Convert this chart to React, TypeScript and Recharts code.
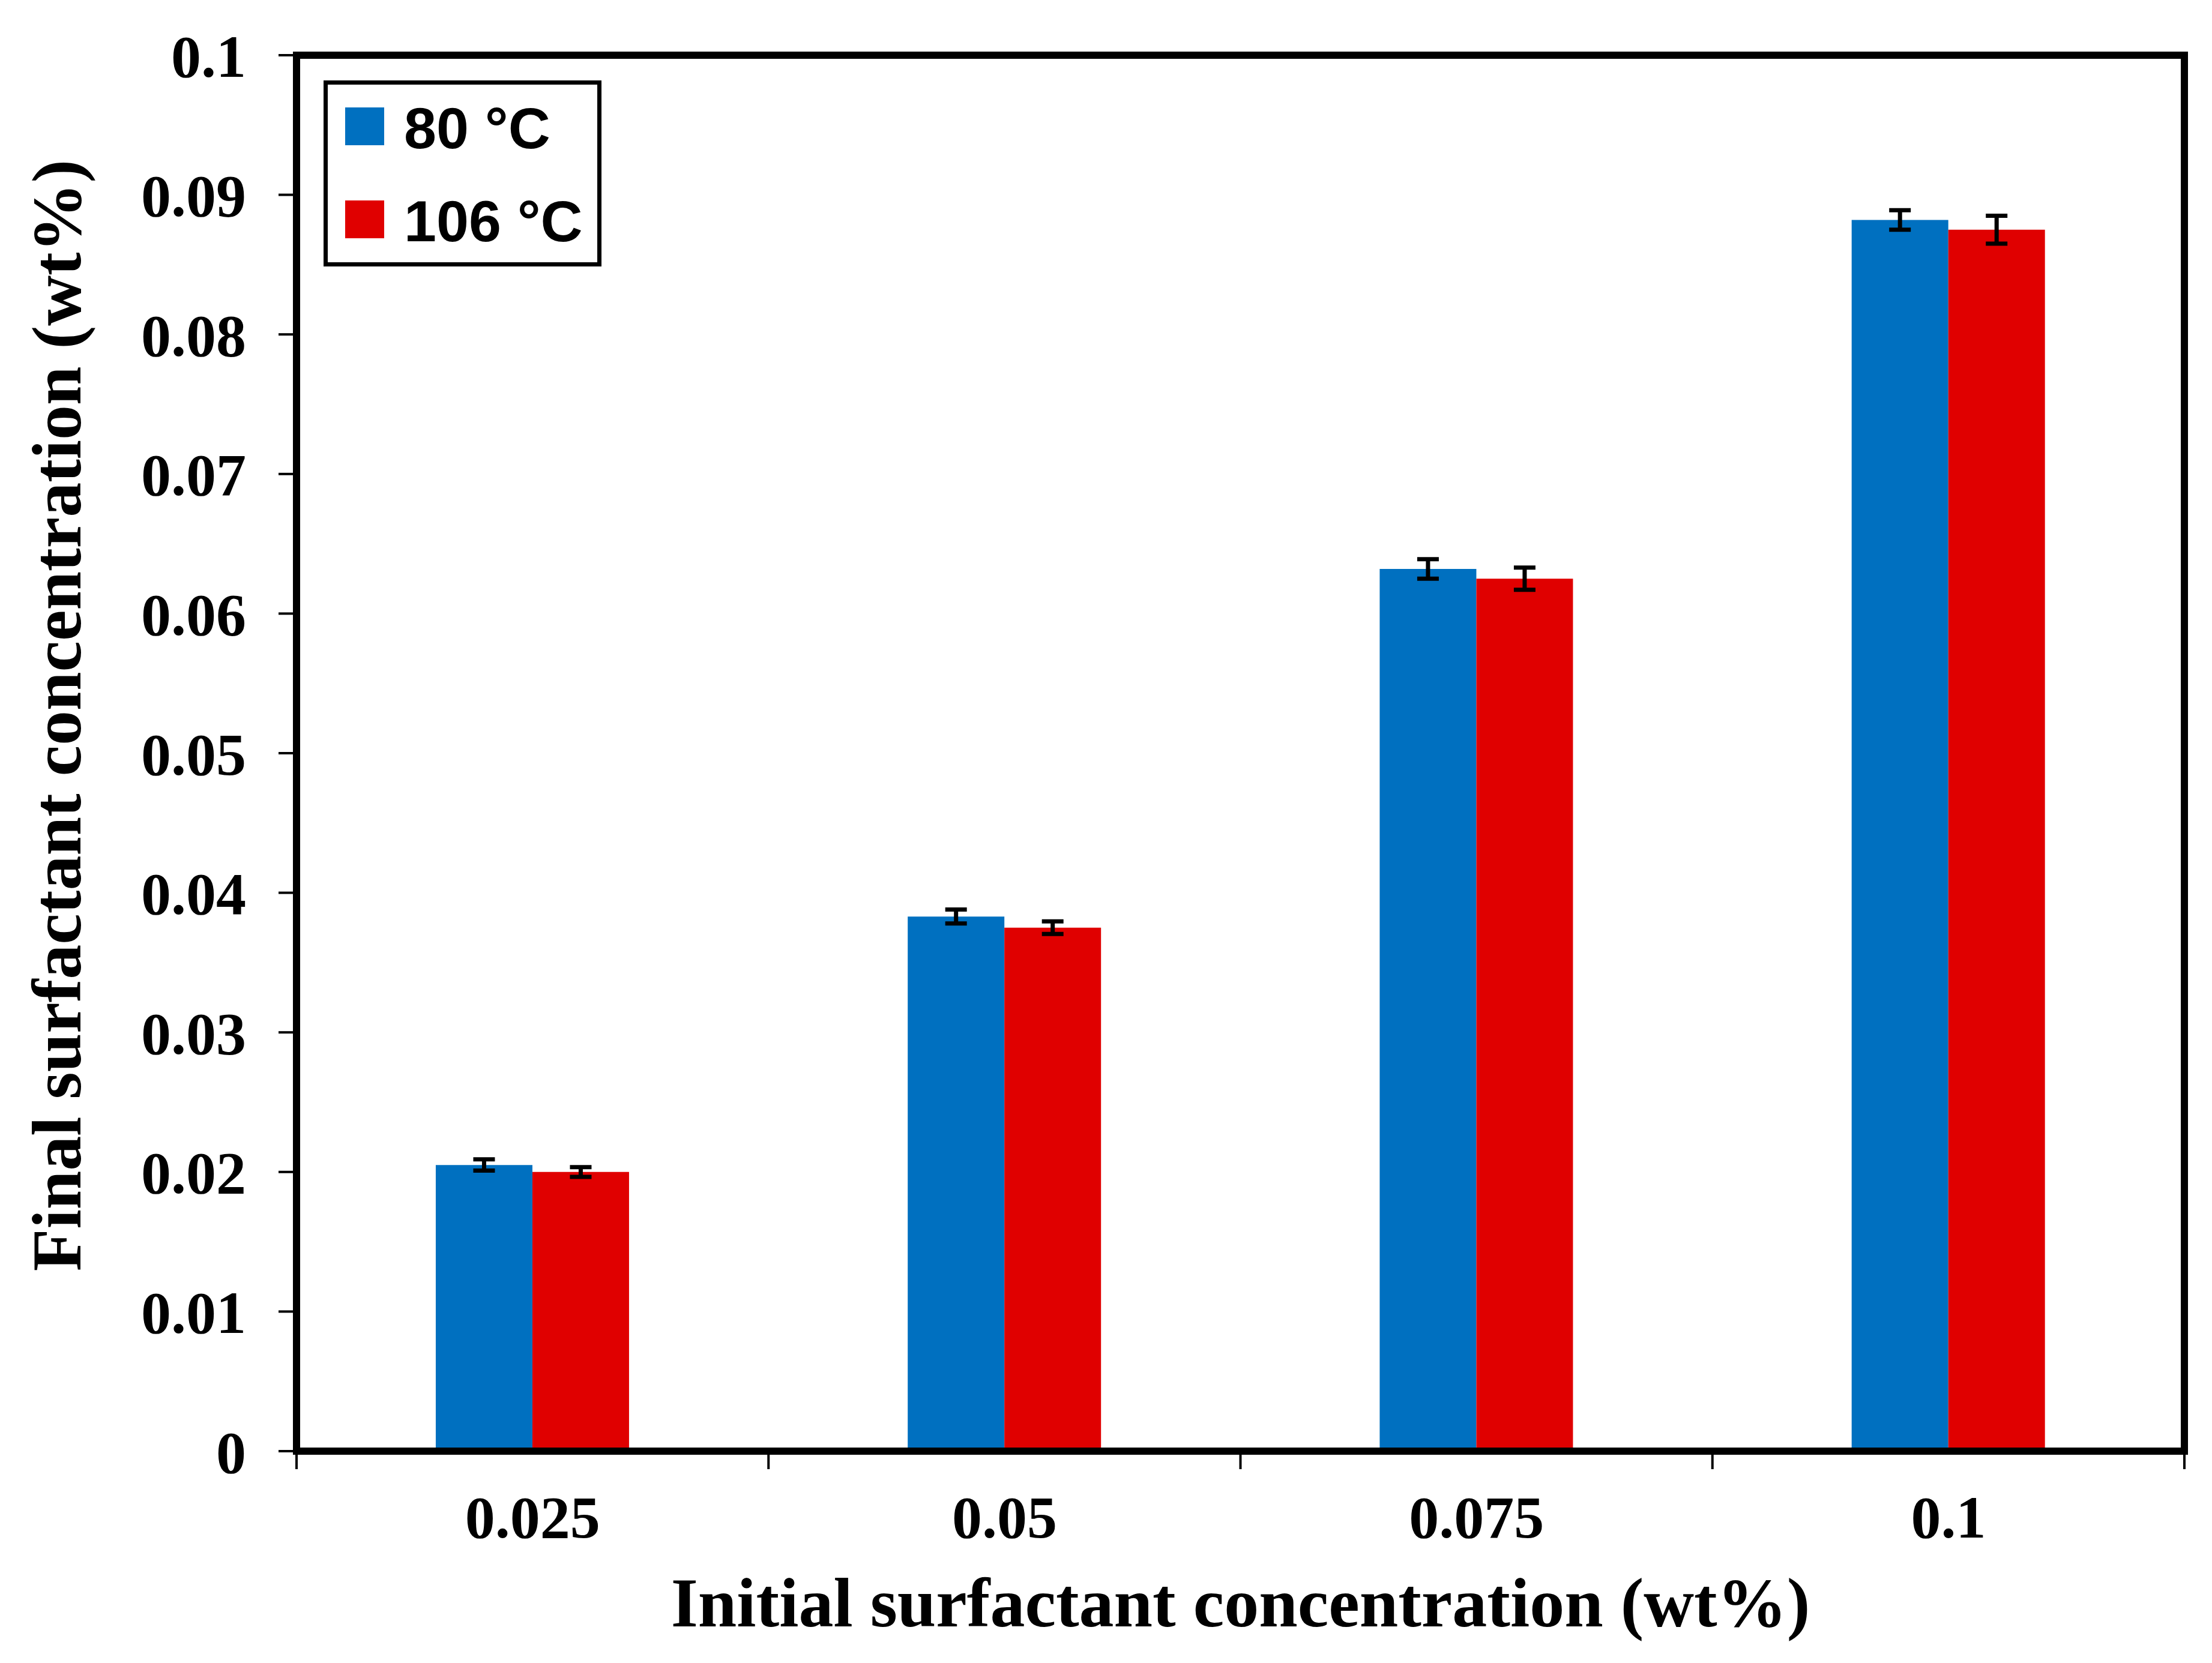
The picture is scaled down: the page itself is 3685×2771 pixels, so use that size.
import { BarChart, Bar, XAxis, YAxis, ErrorBar, Legend, Label } from "recharts";

// initial surfactant concentration (wt%)
const categories = ["0.025", "0.05", "0.075", "0.1"];

// final concentration (wt%) at each temperature
const final80 = [0.0205, 0.0383, 0.0632, 0.0882];
const final106 = [0.02, 0.0375, 0.0625, 0.0875];

// error bar half-heights
const err80 = [0.0004, 0.0005, 0.0007, 0.0007];
const err106 = [0.00035, 0.00045, 0.0008, 0.001];

const seriesNames = ["80 °C", "106 °C"];
const yTicks = [0, 0.01, 0.02, 0.03, 0.04, 0.05, 0.06, 0.07, 0.08, 0.09, 0.1];

const BLUE = "#0070C0";
const RED = "#E00000";
const COLORS = [BLUE, RED];

const SERIF = "'Liberation Serif', 'Times New Roman', serif";
const SANS = "'Liberation Sans', Arial, sans-serif";

const X_TICK_MARGIN = 73;

const data = categories.map((cat, i) => ({
  cat,
  t80: final80[i],
  t106: final106[i],
  e80: err80[i],
  e106: err106[i],
}));

const tickFont = {
  fill: "#000",
  fontSize: 100,
  fontWeight: "bold",
  fontFamily: SERIF,
};

const frameLine = { stroke: "#000", strokeWidth: 12, strokeLinecap: "square" };

// category label plus the small tick marks on the category boundaries
function CatTick(props: any) {
  const { x, y, payload, index, visibleTicksCount, width } = props;
  const half = width / visibleTicksCount / 2;
  const axisY = y - X_TICK_MARGIN;
  const mark = (mx: number) => (
    <line x1={mx} x2={mx} y1={axisY} y2={axisY + 30} stroke="#000" strokeWidth={4} />
  );
  return (
    <g>
      {mark(x - half)}
      {index === visibleTicksCount - 1 && mark(x + half)}
      <text x={x} y={y} dy="0.71em" textAnchor="middle" {...tickFont}>
        {payload.value}
      </text>
    </g>
  );
}

function LegendBox() {
  return (
    <div
      style={{
        boxSizing: "border-box",
        width: 463,
        height: 310,
        border: "7px solid #000",
        background: "#fff",
        paddingTop: 38,
        paddingLeft: 29,
        display: "flex",
        flexDirection: "column",
        gap: 92,
      }}
    >
      {seriesNames.map((name, i) => (
        <div
          key={name}
          style={{ display: "flex", alignItems: "center", height: 63 }}
        >
          <div style={{ width: 65, height: 63, background: COLORS[i] }} />
          <span
            style={{
              marginLeft: 33,
              marginTop: 6,
              fontFamily: SANS,
              fontWeight: "bold",
              fontSize: 97,
              lineHeight: 1,
              color: "#000",
              whiteSpace: "nowrap",
            }}
          >
            {name}
          </span>
        </div>
      ))}
    </div>
  );
}

function YTitle() {
  return (
    <text
      x={134}
      y={1192}
      transform="rotate(-90 134 1192)"
      textAnchor="middle"
      fontFamily={SERIF}
      fontWeight="bold"
      fontSize={116}
      fill="#000"
    >
      Final surfactant concentration (wt%)
    </text>
  );
}

export default function App() {
  return (
    <div style={{ position: "absolute", left: 0, top: 0, background: "#fff" }}>
      <BarChart
        width={3685}
        height={2771}
        data={data}
        margin={{ top: 91, right: 45, left: 0, bottom: 0 }}
        barCategoryGap="29.5%"
        barGap={0}
      >
        <XAxis
          xAxisId="cat"
          dataKey="cat"
          height={353}
          interval={0}
          axisLine={frameLine}
          tickLine={false}
          tickSize={0}
          tickMargin={X_TICK_MARGIN}
          tick={<CatTick />}
        >
          <Label
            value="Initial surfactant concentration (wt%)"
            position="insideBottom"
            offset={61}
            fill="#000"
            fontSize={116}
            fontWeight="bold"
            fontFamily={SERIF}
          />
        </XAxis>
        <XAxis
          xAxisId="top"
          dataKey="cat"
          orientation="top"
          height={1}
          tick={false}
          tickLine={false}
          axisLine={frameLine}
        />
        <YAxis
          yAxisId="left"
          width={494}
          domain={[0, 0.1]}
          ticks={yTicks}
          interval={0}
          axisLine={frameLine}
          tickSize={30}
          tickMargin={54}
          tickLine={{ stroke: "#000", strokeWidth: 4 }}
          tick={tickFont}
          label={YTitle}
        />
        <YAxis
          yAxisId="right"
          orientation="right"
          width={1}
          domain={[0, 0.1]}
          tick={false}
          tickLine={false}
          axisLine={frameLine}
        />
        <Legend
          layout="vertical"
          align="center"
          verticalAlign="middle"
          wrapperStyle={{ left: 539, top: 134, width: 463, height: 310 }}
          content={LegendBox}
        />
        <Bar
          xAxisId="cat"
          yAxisId="left"
          dataKey="t80"
          name={seriesNames[0]}
          fill={BLUE}
          isAnimationActive={false}
        >
          <ErrorBar dataKey="e80" width={18} strokeWidth={7} stroke="#000" direction="y" />
        </Bar>
        <Bar
          xAxisId="cat"
          yAxisId="left"
          dataKey="t106"
          name={seriesNames[1]}
          fill={RED}
          isAnimationActive={false}
        >
          <ErrorBar dataKey="e106" width={18} strokeWidth={7} stroke="#000" direction="y" />
        </Bar>
      </BarChart>
    </div>
  );
}
